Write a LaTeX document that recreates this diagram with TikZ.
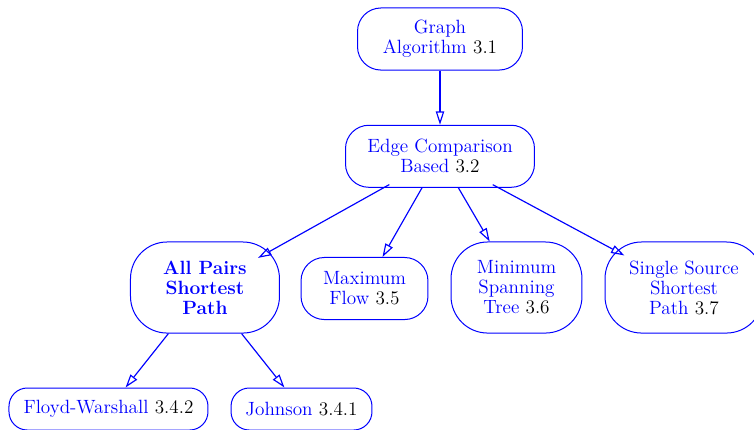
\documentclass[tikz,border=0pt]{standalone}
\usepackage{xcolor}
\usepackage{tikz}
\usetikzlibrary{arrows.meta,positioning}
\newcommand{\secno}[1]{\textcolor{black}{#1}}
\newcommand{\algfont}{\fontsize{11.5}{12}\selectfont}
\tikzset{
  alg/.style   = {rectangle, rounded corners=14pt, draw=blue, text=blue,
                  line width=0.6pt, align=center, inner sep=2pt,
                  minimum height=37.2pt, font=\algfont},
  short/.style = {alg, rounded corners=11pt, minimum height=25.2pt},
  tall/.style  = {alg, rounded corners=22pt, minimum height=54.6pt},
  arr/.style   = {-{Triangle[open,length=8pt,width=5pt]}, line width=0.7pt, draw=blue}
}

\begin{document}
\begin{tikzpicture}
  \useasboundingbox (-9.271,0.822) rectangle (6.616,-8.238);
  \node[alg, minimum width=98.9pt] (graph) {Graph\\Algorithm \secno{3.1}};
  \node[alg, minimum width=113.3pt, below=32.5pt of graph] (edge) {Edge Comparison\\Based \secno{3.2}};
  \node[tall, minimum width=89.3pt, font=\algfont\bfseries] (apsp) at (-4.952,-5.236) {All Pairs\\Shortest\\Path};
  \node[alg,  minimum width=76.1pt]  (flow)  at (-1.591,-5.257) {Maximum\\Flow \secno{3.5}};
  \node[tall, minimum width=78.5pt]  (mst)   at (1.612,-5.236)  {Minimum\\Spanning\\Tree \secno{3.6}};
  \node[tall, minimum width=94.7pt]  (sssp)  at (5.141,-5.236)  {Single Source\\Shortest\\Path \secno{3.7}};
  \node[short, minimum width=119.3pt] (floyd) at (-6.985,-7.796) {Floyd-Warshall \secno{3.4.2}};
  \node[short, minimum width=84.5pt]  (john)  at (-2.918,-7.796) {Johnson \secno{3.4.1}};
  \draw[arr] (graph) -- (edge);
  \foreach \c/\s/\t in {apsp/-4pt/-15pt, flow/0pt/0pt, mst/0pt/0pt, sssp/-4pt/-13.5pt}
    \draw[arr, shorten <=\s, shorten >=\t] (edge) -- (\c);
  \foreach \c in {floyd,john}
    \draw[arr] (apsp) -- (\c);
\end{tikzpicture}
\end{document}
